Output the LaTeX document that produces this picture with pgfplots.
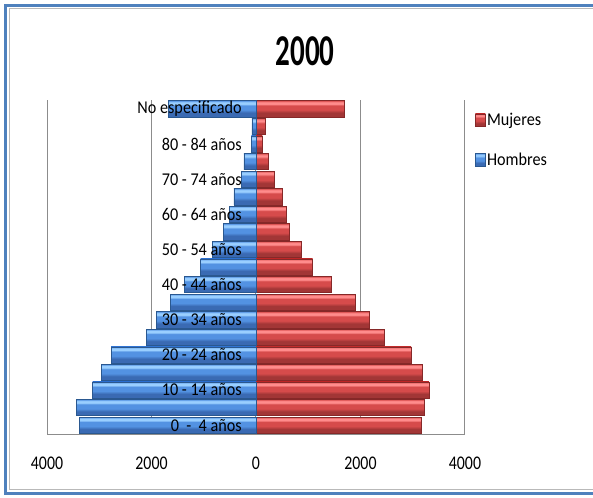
\documentclass[border=0pt]{standalone}
\usepackage{pgfplots}
\pgfplotsset{compat=1.18}
\usepackage{fontspec}
\setmainfont{Carlito}
\newfontfamily\titlefont{Carlito}[FakeStretch=0.66]
\newfontfamily\labfont{Carlito}[FakeStretch=0.9]
\newfontfamily\tickfont{Carlito}[FakeStretch=0.82]
\definecolor{frameblue}{HTML}{4F81BD}
\definecolor{gridgray}{HTML}{8C8C8C}
\definecolor{rtop}{HTML}{FF8C8C}
\definecolor{rmid}{HTML}{D64B4B}
\definecolor{rbot}{HTML}{A23636}
\definecolor{redge}{HTML}{862828}
\definecolor{btop}{HTML}{9ACFFF}
\definecolor{bmid}{HTML}{5392E2}
\definecolor{bbot}{HTML}{3A6AB3}
\definecolor{bedge}{HTML}{2A5890}
\pgfdeclareverticalshading{rbev}{100bp}{color(0bp)=(rbot); color(25bp)=(rbot); color(38bp)=(rbot); color(47bp)=(rmid); color(60bp)=(rmid); color(65bp)=(rtop); color(70bp)=(rtop); color(75bp)=(rmid); color(100bp)=(rmid)}
\pgfdeclareverticalshading{bbev}{100bp}{color(0bp)=(bbot); color(25bp)=(bbot); color(38bp)=(bbot); color(47bp)=(bmid); color(60bp)=(bmid); color(65bp)=(btop); color(70bp)=(btop); color(75bp)=(bmid); color(100bp)=(bmid)}
\pgfplotsset{
  mstyle/.style={xbar, bar width=0.92, bar shift=0pt, draw=redge, line width=0.4pt,
    shade, shading=rbev, forget plot},
  hstyle/.style={xbar, bar width=0.92, bar shift=0pt, draw=bedge, line width=0.4pt,
    shade, shading=bbev, forget plot},
  common/.style={at={(35.25pt,47.25pt)}, anchor=south west,
    scale only axis, width=313.5pt, height=250.5pt,
    xmin=-4000, xmax=4000, ymin=-0.5, ymax=18.5, major tick length=0pt},
}
\newcommand\mb[2]{\addplot[mstyle] coordinates {(#1,#2)};}
\newcommand\hb[2]{\addplot[hstyle] coordinates {(#1,#2)};}
\begin{document}
\begin{tikzpicture}
\fill[white] (0pt,0pt) rectangle (444.75pt,372.75pt);
\draw[frameblue, line width=2.6pt] (450pt,2.625pt) -- (4.125pt,2.625pt) -- (4.125pt,368.6pt) -- (450pt,368.6pt);
\draw[gray!55, line width=0.75pt] (450pt,6pt) -- (7.125pt,6pt) -- (7.125pt,366pt) -- (450pt,366pt);
\node[font=\titlefont\bfseries\fontsize{33}{36}\selectfont] at (228.75pt,334.5pt) {2000};
\begin{axis}[
  common,
  xtick={-4000,-2000,0,2000,4000},
  xticklabels={4000,2000,0,2000,4000},
  ytick=\empty,
  xticklabel style={font=\tickfont\fontsize{14.5}{16}\selectfont, anchor=center, inner sep=0pt, yshift=-21.75pt},
  separate axis lines,
  axis x line*=bottom,
  x axis line style={draw=gridgray, line width=0.75pt, -},
  y axis line style={draw=none},
  xmajorgrids, major grid style={draw=gridgray, line width=0.75pt},
  legend style={at={(1.024,0.966)}, anchor=north west, draw=none, fill=none,
    font=\labfont\fontsize{13.5}{15}\selectfont, row sep=17pt, inner sep=0pt,
    nodes={inner sep=1pt}},
  legend cell align=left,
]
% Mujeres
\mb{3171}{0}
\mb{3221}{1}
\mb{3311}{2}
\mb{3190}{3}
\mb{2967}{4}
\mb{2450}{5}
\mb{2163}{6}
\mb{1908}{7}
\mb{1435}{8}
\mb{1085}{9}
\mb{874}{10}
\mb{638}{11}
\mb{574}{12}
\mb{504}{13}
\mb{351}{14}
\mb{236}{15}
\mb{121}{16}
\mb{185}{17}
\mb{1684}{18}
% Hombres
\hb{-3382}{0}
\hb{-3432}{1}
\hb{-3126}{2}
\hb{-2953}{3}
\hb{-2775}{4}
\hb{-2105}{5}
\hb{-1901}{6}
\hb{-1633}{7}
\hb{-1372}{8}
\hb{-1059}{9}
\hb{-829}{10}
\hb{-625}{11}
\hb{-510}{12}
\hb{-421}{13}
\hb{-274}{14}
\hb{-230}{15}
\hb{-89}{16}
\hb{-77}{17}
\hb{-1678}{18}
\addlegendimage{legend image code/.code={\path[shade, shading=rbev, draw=redge, line width=0.3pt] (0pt,-4.8pt) rectangle (7.5pt,4.8pt);}}
\addlegendentry{Mujeres}
\addlegendimage{legend image code/.code={\path[shade, shading=bbev, draw=bedge, line width=0.3pt] (0pt,-4.8pt) rectangle (7.5pt,4.8pt);}}
\addlegendentry{Hombres}
\end{axis}
\begin{axis}[
  common,
  xtick=\empty,
  ytick={0,2,...,18},
  yticklabels={0\ \ -\ \ 4 años,10 - 14 años,20 - 24 años,30 - 34 años,40 - 44 años,50 - 54 años,60 - 64 años,70 - 74 años,80 - 84 años,No especificado},
  yticklabel style={font=\labfont\fontsize{13.5}{15}\selectfont, anchor=east, inner sep=0pt, xshift=146.25pt},
  axis line style={draw=none},
]
\addplot[draw=none, forget plot] coordinates {(0,0)};
\end{axis}
\pgfresetboundingbox
\useasboundingbox (0pt,0pt) rectangle (444.75pt,372.75pt);
\end{tikzpicture}
\end{document}
